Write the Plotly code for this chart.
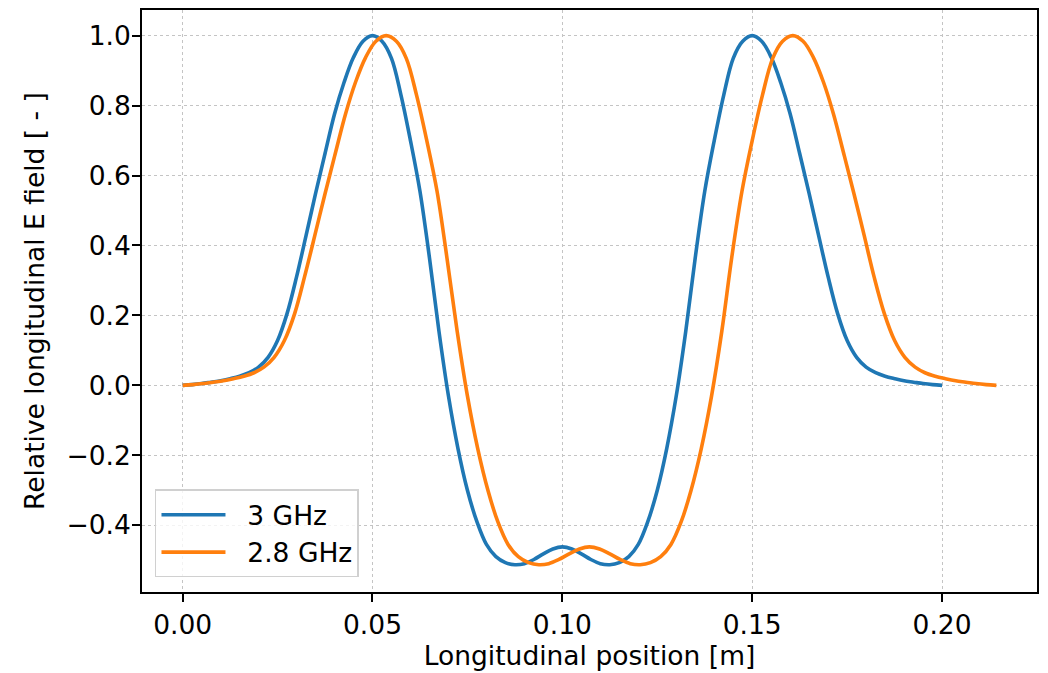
import plotly.graph_objects as go

# 3 GHz field profile
x_3ghz = [0.0, 0.0025, 0.005, 0.0075, 0.01, 0.0125, 0.015, 0.0175, 0.02, 0.0225,
          0.025, 0.0275, 0.03, 0.0325, 0.035, 0.0375, 0.04, 0.0425, 0.045, 0.0475,
          0.05, 0.0525, 0.055, 0.0575, 0.06, 0.0625, 0.065, 0.0675, 0.07, 0.0725,
          0.075, 0.0775, 0.08, 0.0825, 0.085, 0.0875, 0.09, 0.0925, 0.095, 0.0975,
          0.1, 0.1025, 0.105, 0.1075, 0.11, 0.1125, 0.115, 0.1175, 0.12, 0.1225,
          0.125, 0.1275, 0.13, 0.1325, 0.135, 0.1375, 0.14, 0.1425, 0.145, 0.1475,
          0.15, 0.1525, 0.155, 0.1575, 0.16, 0.1625, 0.165, 0.1675, 0.17, 0.1725,
          0.175, 0.1775, 0.18, 0.1825, 0.185, 0.1875, 0.19, 0.1925, 0.195, 0.1975,
          0.2]
e_3ghz = [0.0, 0.002, 0.005, 0.009, 0.013, 0.019, 0.026, 0.036, 0.052, 0.08,
          0.128, 0.205, 0.31, 0.428, 0.548, 0.663, 0.776, 0.866, 0.938, 0.984,
          1.0, 0.984, 0.935, 0.83, 0.70, 0.555, 0.365, 0.155, -0.03, -0.18,
          -0.30, -0.39, -0.455, -0.49, -0.507, -0.513, -0.51, -0.498, -0.482, -0.468,
          -0.462, -0.468, -0.482, -0.498, -0.51, -0.513, -0.507, -0.49, -0.455, -0.39,
          -0.30, -0.18, -0.03, 0.155, 0.365, 0.555, 0.70, 0.83, 0.935, 0.984,
          1.0, 0.984, 0.938, 0.866, 0.776, 0.663, 0.548, 0.428, 0.31, 0.205,
          0.128, 0.08, 0.052, 0.036, 0.026, 0.019, 0.013, 0.009, 0.005, 0.002,
          0.0]

# 2.8 GHz field profile
x_28ghz = [0.0, 0.0027, 0.0054, 0.0080, 0.0107, 0.0134, 0.0161, 0.0188, 0.0214, 0.0241,
           0.0268, 0.0295, 0.0321, 0.0348, 0.0375, 0.0402, 0.0429, 0.0455, 0.0482, 0.0509,
           0.0536, 0.0563, 0.0589, 0.0616, 0.0643, 0.0670, 0.0696, 0.0723, 0.0750, 0.0777,
           0.0804, 0.0830, 0.0857, 0.0884, 0.0911, 0.0938, 0.0964, 0.0991, 0.1018, 0.1045,
           0.1071, 0.1098, 0.1125, 0.1152, 0.1179, 0.1205, 0.1232, 0.1259, 0.1286, 0.1313,
           0.1339, 0.1366, 0.1393, 0.1420, 0.1446, 0.1473, 0.1500, 0.1527, 0.1554, 0.1580,
           0.1607, 0.1634, 0.1661, 0.1688, 0.1714, 0.1741, 0.1768, 0.1795, 0.1821, 0.1848,
           0.1875, 0.1902, 0.1929, 0.1955, 0.1982, 0.2009, 0.2036, 0.2063, 0.2089, 0.2116,
           0.2143]
e_28ghz = [0.0, 0.002, 0.005, 0.009, 0.013, 0.019, 0.026, 0.036, 0.052, 0.08,
           0.128, 0.205, 0.31, 0.428, 0.548, 0.663, 0.776, 0.866, 0.938, 0.984,
           1.0, 0.984, 0.935, 0.83, 0.70, 0.555, 0.365, 0.155, -0.03, -0.18,
           -0.30, -0.39, -0.455, -0.49, -0.507, -0.513, -0.51, -0.498, -0.482, -0.468,
           -0.462, -0.468, -0.482, -0.498, -0.51, -0.513, -0.507, -0.49, -0.455, -0.39,
           -0.30, -0.18, -0.03, 0.155, 0.365, 0.555, 0.70, 0.83, 0.935, 0.984,
           1.0, 0.984, 0.938, 0.866, 0.776, 0.663, 0.548, 0.428, 0.31, 0.205,
           0.128, 0.08, 0.052, 0.036, 0.026, 0.019, 0.013, 0.009, 0.005, 0.002,
           0.0]

series_names = ["3 GHz", "2.8 GHz"]
x_ticks = [0.0, 0.05, 0.10, 0.15, 0.20]
y_ticks = [-0.4, -0.2, 0.0, 0.2, 0.4, 0.6, 0.8, 1.0]

FONT = "DejaVu Sans"
FS = 26.5
PAD = "\u00a0\u00a0"

fig = go.Figure()
fig.add_trace(go.Scatter(x=x_3ghz, y=e_3ghz, mode="lines", name=PAD + series_names[0],
                         line=dict(color="#1f77b4", width=3.6, shape="spline", smoothing=1.0)))
fig.add_trace(go.Scatter(x=x_28ghz, y=e_28ghz, mode="lines", name=PAD + series_names[1],
                         line=dict(color="#ff7f0e", width=3.6, shape="spline", smoothing=1.0)))

axis_common = dict(
    showline=True, linecolor="black", linewidth=1.8, mirror=True,
    ticks="outside", ticklen=8, tickwidth=1.8, tickcolor="black",
    showgrid=True, gridcolor="#c4c4c4", griddash="dot", gridwidth=1.4,
    zeroline=False, tickfont=dict(family=FONT, size=FS, color="black"),
)

fig.update_xaxes(range=[-0.0107, 0.2250], tickvals=x_ticks, tickformat=".2f",
                 title=dict(text="Longitudinal position [m]", font=dict(family=FONT, size=FS, color="black"),
                            standoff=8),
                 **axis_common)
fig.update_yaxes(range=[-0.591, 1.0733], tickvals=y_ticks, tickformat=".1f",
                 ticklabelstandoff=-4,
                 title=dict(text="Relative longitudinal E field [ - ]", font=dict(family=FONT, size=FS, color="black"),
                            standoff=14),
                 **axis_common)

fig.update_layout(
    width=1048, height=673,
    margin=dict(l=142, r=11, t=10, b=81, autoexpand=False),
    paper_bgcolor="white", plot_bgcolor="white",
    font=dict(family=FONT, size=FS, color="black"),
    showlegend=True,
    legend=dict(x=0.0145, y=0.025, xanchor="left", yanchor="bottom",
                bgcolor="rgba(255,255,255,0.8)", bordercolor="#d0d0d0", borderwidth=1.5,
                font=dict(family=FONT, size=FS, color="black"),
                tracegroupgap=0, itemwidth=64),
)

fig.write_html("out.html", config={"displayModeBar": False},
               post_script="document.body.style.margin='0px';document.body.style.overflow='hidden';")
